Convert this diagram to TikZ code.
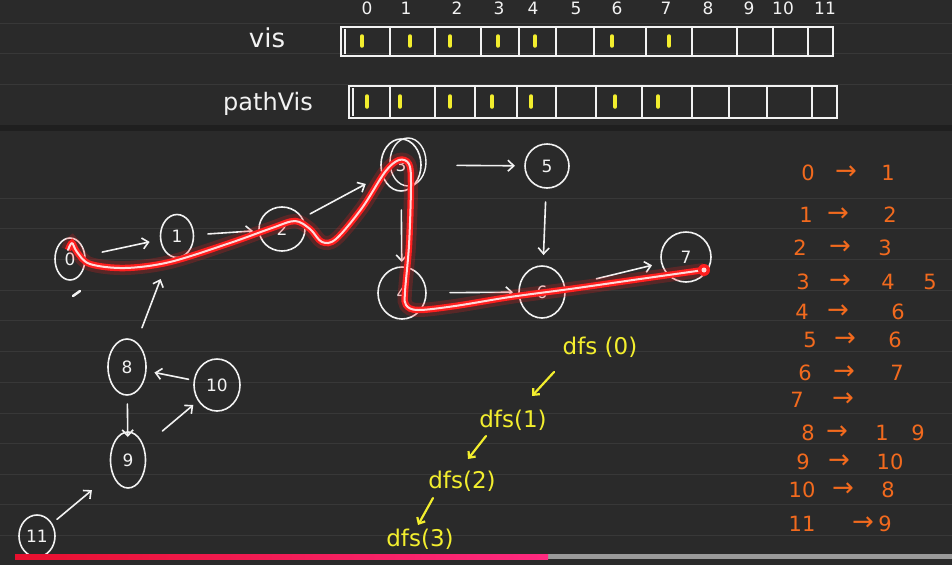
\documentclass[tikz,border=0pt]{standalone}
\usepackage{fontspec}
\setmainfont{DejaVu Sans}
\usetikzlibrary{arrows.meta,shapes.geometric,calc}
\definecolor{board}{HTML}{2A2A2A}
\definecolor{ruleln}{HTML}{383838}
\definecolor{band}{HTML}{1F1F1F}
\definecolor{chalk}{HTML}{F2F2F2}
\definecolor{hl}{HTML}{F3EE2E}
\definecolor{orng}{HTML}{F26A1E}
\definecolor{glowred}{HTML}{FF1E1E}
\definecolor{corepink}{HTML}{FFD8D8}
\definecolor{barred}{HTML}{E8102E}
\definecolor{barpink}{HTML}{FF2A80}
\definecolor{bargray}{HTML}{9A9A9A}
\begin{document}
\begin{tikzpicture}[x=1pt,y=-1pt,
  gnode/.style={ellipse, draw=chalk, line width=1.6pt, text=chalk,
    font=\fontsize{17}{17}\selectfont, inner sep=0pt},
  garr/.style={draw=chalk, line width=1.6pt, line cap=round,
    -{Straight Barb[length=6pt,width=11pt]}},
  yarr/.style={draw=hl, line width=2.2pt, line cap=round,
    -{Straight Barb[length=5pt,width=9pt]}},
  arrbox/.style={draw=chalk, line width=1.6pt},
  ymark/.style={draw=hl, line width=3.5pt, line cap=round},
  idx/.style={text=chalk, font=\fontsize{17}{17}\selectfont, inner sep=0pt},
  lbl/.style={text=chalk, inner sep=0pt},
  adj/.style={text=orng, font=\fontsize{21}{21}\selectfont, inner sep=0pt},
  adjarr/.style={text=orng, font=\fontsize{26}{26}\selectfont, inner sep=0pt},
  dfst/.style={text=hl, font=\fontsize{23}{23}\selectfont, inner sep=0pt}
]
\useasboundingbox (0,0) rectangle (952,565);
\fill[board] (0,0) rectangle (952,565);
\foreach \yy in {23,53,84,198,228,259,290,320,351,382,413,443,474,504,535}
  \draw[ruleln, line width=1pt] (0,\yy) -- (952,\yy);
\fill[band] (0,125) rectangle (952,131);

% ---- arrays ----
\node[lbl, font=\fontsize{26}{26}\selectfont] (vislbl) at (267,38) {vis};
\node[lbl, font=\fontsize{24}{24}\selectfont] (pvlbl) at (268,104) {pathVis};
\foreach \i/\xx in {0/367,1/406,2/457,3/499,4/533,5/576,6/617,7/666,8/708,9/749,10/783,11/825}
  \node[idx] (ix\i) at (\xx,8) {\i};
\draw[arrbox] (341,27) rectangle (833,56);
\draw[arrbox] (345,29) -- (345,54);
\foreach \xx in {390,435,481,519,556,594,646,692,737,773,808}
  \draw[arrbox] (\xx,27) -- (\xx,56);
\foreach \xx in {362,410,450,498,535,612,669}
  \draw[ymark] (\xx,36) -- (\xx,46);
\draw[arrbox] (349,86) rectangle (837,118);
\draw[arrbox] (353,88) -- (353,116);
\foreach \xx in {390,435,475,517,556,596,642,692,729,767,812}
  \draw[arrbox] (\xx,86) -- (\xx,118);
\foreach \xx in {367,400,450,492,531,615,658}
  \draw[ymark] (\xx,96) -- (\xx,107);

% ---- graph nodes ----
\node[gnode, minimum width=30pt, minimum height=42pt] (n0) at (70,259) {0};
\node[gnode, minimum width=33pt, minimum height=43pt] (n1) at (177,236) {1};
\node[gnode, minimum width=46pt, minimum height=44pt] (n2) at (282,229) {2};
\node[gnode, minimum width=40pt, minimum height=52pt] (n3) at (401,165) {3};
\draw[chalk, line width=1.4pt] ($(n3)+(7,-3)$) ellipse (18 and 24);
\node[gnode, minimum width=48pt, minimum height=52pt] (n4) at (402,293) {4};
\node[gnode, minimum width=44pt, minimum height=44pt] (n5) at (547,166) {5};
\node[gnode, minimum width=46pt, minimum height=52pt] (n6) at (542,292) {6};
\node[gnode, minimum width=50pt, minimum height=50pt] (n7) at (686,257) {7};
\node[gnode, minimum width=38pt, minimum height=56pt] (n8) at (127,367) {8};
\node[gnode, minimum width=35pt, minimum height=56pt] (n9) at (128,460) {9};
\node[gnode, minimum width=46pt, minimum height=52pt] (n10) at (217,385) {10};
\node[gnode, minimum width=36pt, minimum height=42pt] (n11) at (37,536) {11};
\draw[chalk, line width=2.5pt, line cap=round] (73,296) -- (80,291);

% ---- edges ----
\draw[garr, shorten <=33pt, shorten >=28pt] (n0.center) -- (n1.center);
\draw[garr, shorten <=31pt, shorten >=29pt] (n1.center) -- (n2.center);
\draw[garr, shorten <=32pt, shorten >=40pt] (n2.center) -- (n3.center);
\draw[garr, shorten <=45pt, shorten >=31pt] (n3.center) -- (n4.center);
\draw[garr, shorten <=56pt, shorten >=32pt] (n3.center) -- (n5.center);
\draw[garr, shorten <=36pt, shorten >=37pt] (n5.center) -- (n6.center);
\draw[garr, shorten <=48pt, shorten >=29pt] (n4.center) -- (n6.center);
\draw[garr, shorten <=56pt, shorten >=35pt] (n6.center) -- (n7.center);
\draw[garr, shorten <=42pt, shorten >=46pt] (n8.center) -- (n1.center);
\draw[garr, shorten <=37pt, shorten >=23pt] (n8.center) -- (n9.center);
\draw[garr, shorten <=29pt, shorten >=28pt] (n10.center) -- (n8.center);
\draw[garr, shorten <=45pt, shorten >=31pt] (n9.center) -- (n10.center);
\draw[garr, shorten <=26pt, shorten >=47pt] (n11.center) -- (n9.center);

% ---- highlighted DFS path ----
\draw[corepink, line width=2pt, line cap=round, line join=round,
  preaction={draw=glowred, line width=14pt, opacity=0.22},
  preaction={draw=glowred, line width=6.5pt}]
  plot[smooth, tension=0.55] coordinates {(68,250) (72,243) (77,252) (90,264)
   (125,268) (170,262) (230,243) (272,228) (295,221) (310,229) (322,242)
   (336,239) (362,208) (385,172) (399,160) (409,164) (411,185) (409,245)
   (405,292) (406,305) (418,310) (455,306) (510,297) (570,289) (640,279) (704,270)};
\fill[glowred] (704,270) circle (6);
\fill[corepink] (704,270) circle (2.5);

% ---- adjacency list ----
\foreach \r/\a/\ax/\b/\bx/\yy/\mx in {
  0/0/808/1/888/173/846, 1/1/806/2/890/215/838, 2/2/800/3/885/248/840,
  3/3/803/4/888/282/840, 4/4/802/6/898/312/838, 5/5/810/6/895/340/845,
  6/6/805/7/897/373/844, 7/7/797//880/400/843, 8/8/808/1/882/433/837,
  9/9/803/10/890/462/839, 10/10/802/8/888/490/843, 11/11/802/9/885/524/863}{
  \node[adj] (la\r) at (\ax,\yy) {\a};
  \node[adjarr] (ar\r) at (\mx,\yy) {→};
  \node[adj] (lb\r) at (\bx,\yy) {\b};
}
\node[adj] (lc3) at (930,282) {5};
\node[adj] (lc8) at (918,433) {9};

% ---- dfs calls ----
\node[dfst] (d0) at (600,347) {dfs (0)};
\node[dfst] (d1) at (513,420) {dfs(1)};
\node[dfst] (d2) at (462,481) {dfs(2)};
\node[dfst] (d3) at (420,539) {dfs(3)};
\draw[yarr] (d0) ++(-46,25) coordinate (c0a) -- ++(-22,24) coordinate (c0b);
\draw[yarr] (d1) ++(-27,16) coordinate (c1a) -- ++(-18,23) coordinate (c1b);
\draw[yarr] (d2) ++(-29,17) coordinate (c2a) -- ++(-15,27) coordinate (c2b);

% ---- progress bar ----
\fill[bargray] (548,554) rectangle (952,559);
\shade[left color=barred, right color=barpink] (15,554) rectangle (548,559);
\end{tikzpicture}
\end{document}
